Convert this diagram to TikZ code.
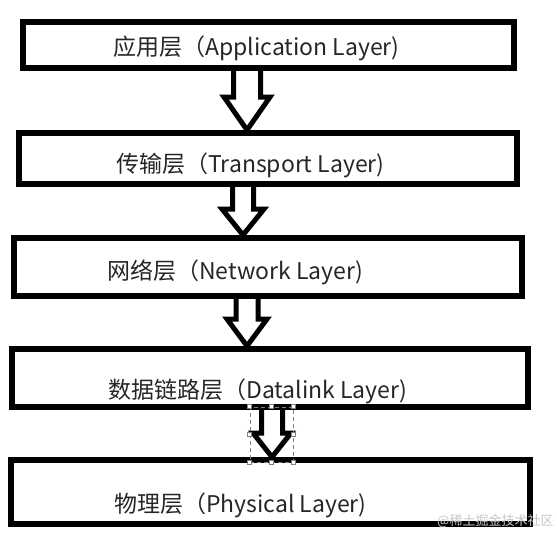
\documentclass[tikz,border=0pt]{standalone}
\usepackage{fontspec}
\newfontfamily\cjk{Noto Sans CJK SC}
\usepackage{tikz}
\usetikzlibrary{calc}

\tikzset{
  layer/.style={draw, line width=6pt, inner sep=0pt},
  layertext/.style={anchor=base west, inner sep=0pt, text=black!85,
    font=\cjk\fontsize{23}{27}\selectfont},
  blockarrow/.style={draw, line width=5pt, line join=miter},
  handle/.style={draw=gray, fill=white, line width=0.8pt, minimum size=4.5pt, inner sep=0pt}
}

% hollow block arrow: from, to, x shift, shaft half width, head half width, head length
\newcommand{\layerarrow}[6]{%
  \draw[blockarrow] let \p1=([xshift=#3]#1.south), \p2=([xshift=#3]#2.north) in
    (\x1-#4,\y1) -- (\x1-#4,\y2+#6) -- (\x1-#5,\y2+#6) -- (\x1,\y2)
    -- (\x1+#5,\y2+#6) -- (\x1+#4,\y2+#6) -- (\x1+#4,\y1);
}

\begin{document}
\begin{tikzpicture}[x=1pt, y=-1pt]
    \useasboundingbox (0,0) rectangle (557,544);
    % Layer boxes
    \node[layer, minimum width=491pt, minimum height=46pt] (app) at (268.5,45) {};
    \node[layer, minimum width=498pt, minimum height=51pt] (trans) at (268,158.5) {};
    \node[layer, minimum width=508pt, minimum height=58pt] (net) at (268,267) {};
    \node[layer, minimum width=516pt, minimum height=58pt] (link) at (270,378) {};
    \node[layer, minimum width=519pt, minimum height=64pt] (phys) at (270.5,492) {};
    % Layer names
    \node[layertext] (appname) at (113,55) {应用层（Application Layer)};
    \node[layertext] (transname) at (116,172) {传输层（Transport Layer)};
    \node[layertext] (netname) at (107,279) {网络层（Network Layer)};
    \node[layertext] (linkname) at (108,398) {数据链路层（Datalink Layer)};
    \node[layertext] (physname) at (114,512) {物理层（Physical Layer)};
    % Arrows between layers
    \layerarrow{app}{trans}{-21.5pt}{13.5pt}{23pt}{33pt}
    \layerarrow{trans}{net}{-25pt}{10.5pt}{21pt}{26pt}
    \layerarrow{net}{link}{-21pt}{11pt}{20pt}{27pt}
    \layerarrow{link}{phys}{2pt}{10.5pt}{19pt}{24pt}
    % Selection frame on the last arrow
    \node[draw=gray, dash pattern=on 4pt off 3pt, line width=0.8pt, inner sep=0pt,
      minimum width=43pt, minimum height=55pt] (sel) at (271.5,434.5) {};
    \foreach \a [count=\i] in {north west,north,north east,east,south east,south,south west,west}
      \node[handle] (hdl\i) at (sel.\a) {};
    % Watermark
    \node[anchor=west, inner sep=0pt, text=gray!45, font=\cjk\fontsize{13}{15}\selectfont]
      (mark) at (437,521) {@稀土掘金技术社区};
\end{tikzpicture}
\end{document}
